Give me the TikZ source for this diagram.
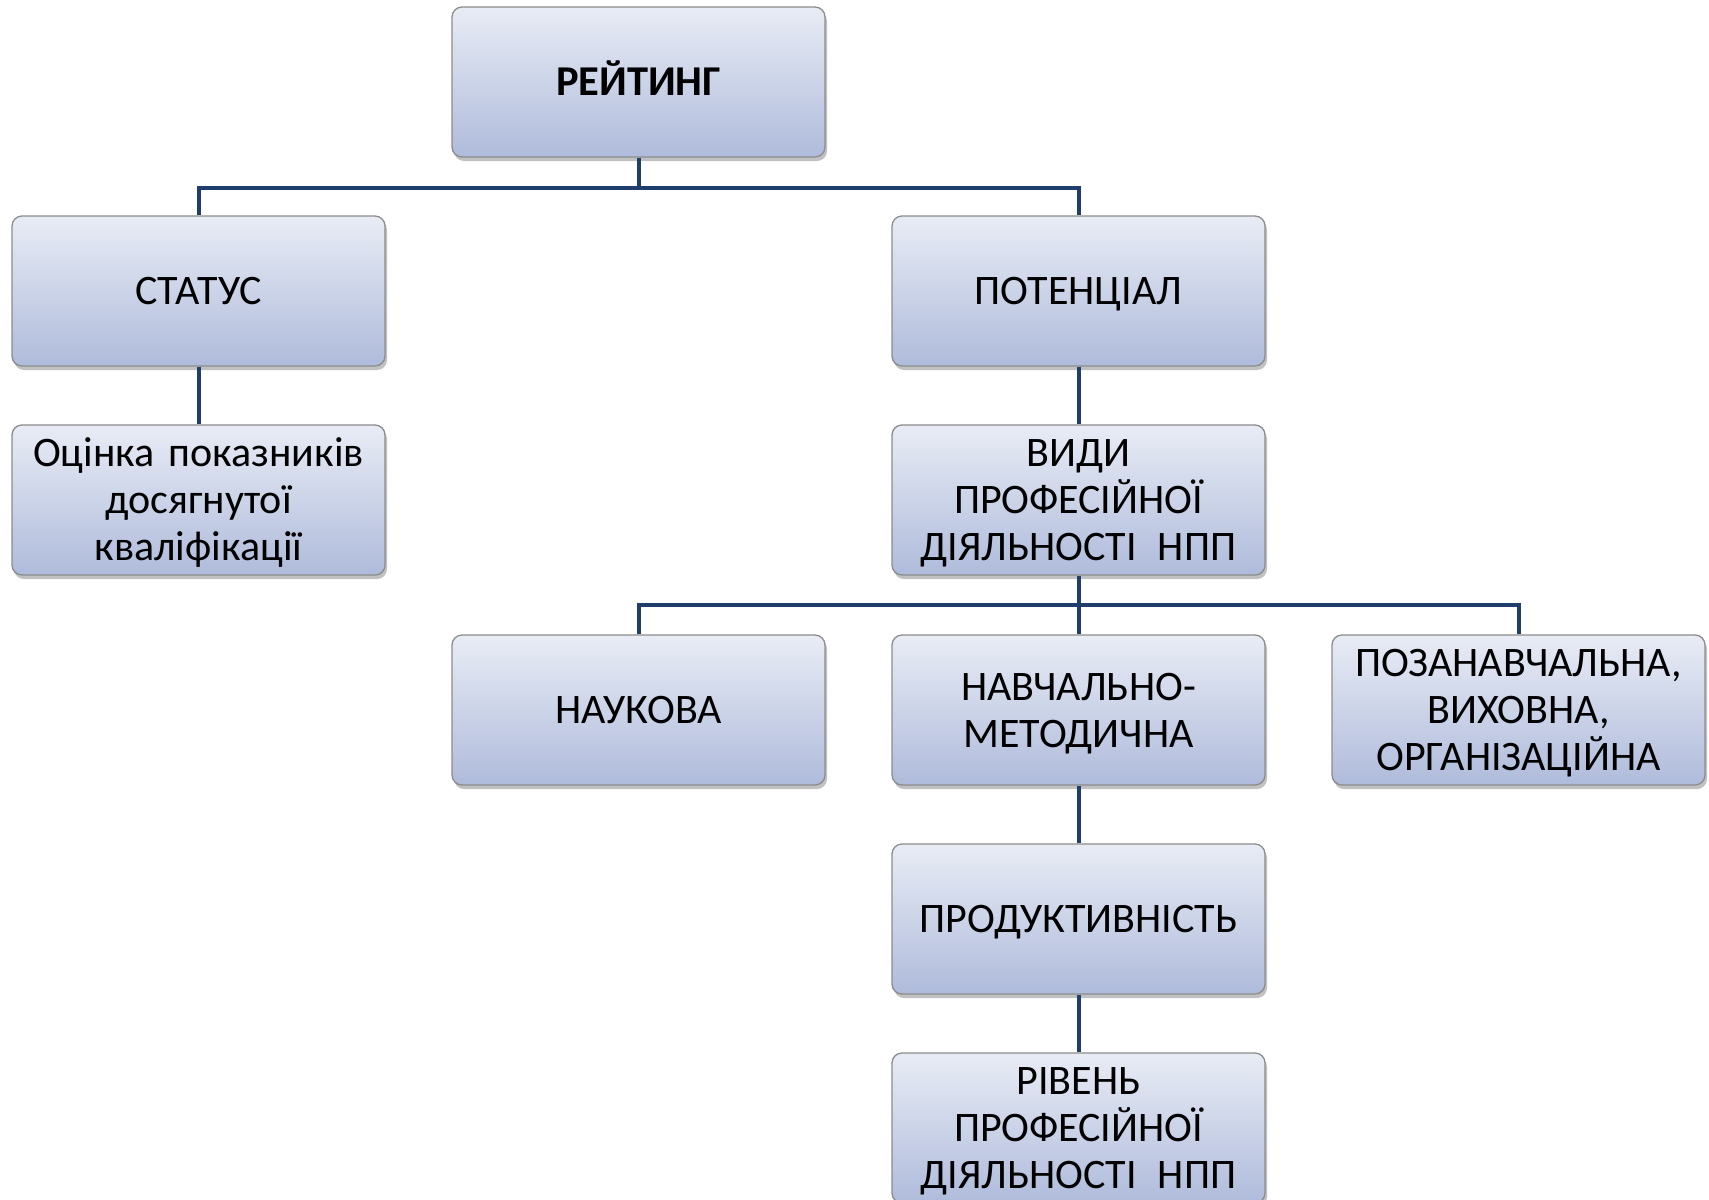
\documentclass[tikz,border=0pt]{standalone}
\usepackage{fontspec}
\setmainfont{Carlito}
\usetikzlibrary{shadows}
\definecolor{boxtop}{HTML}{E8ECF5}
\definecolor{boxbot}{HTML}{AFBBDB}
\definecolor{boxline}{HTML}{8C8C8C}
\definecolor{conncol}{HTML}{1F3E6C}
\tikzset{
  box/.style={draw=boxline, line width=1.3pt, rounded corners=10pt,
    top color=boxtop, bottom color=boxbot,
    minimum width=373pt, minimum height=150pt, inner sep=0pt,
    align=center, text width=365pt,
    font=\fontsize{42}{47}\selectfont,
    execute at begin node={\rule{0pt}{42pt}}, execute at end node=\strut,
    drop shadow={shadow xshift=2pt, shadow yshift=-4pt, opacity=0.35, fill=black!70}},
  conn/.style={draw=conncol, line width=4pt}
}
\newcommand{\gapnpp}{\hspace{0.5em}}
\begin{document}
\begin{tikzpicture}[x=1pt,y=-1pt]
\useasboundingbox (0,0) rectangle (1709,1200);
\node[box, font=\fontsize{42.5}{47}\selectfont\bfseries] (r) at (638.5,82) {РЕЙТИНГ};
\node[box] (s) at (198.5,291) {СТАТУС};
\node[box] (p) at (1078.5,291) {ПОТЕНЦІАЛ};
\node[box] (o) at (198.5,500) {Оцінка показників\\досягнутої\\кваліфікації};
\node[box] (v) at (1078.5,500) {ВИДИ\\ПРОФЕСІЙНОЇ\\ДІЯЛЬНОСТІ\gapnpp НПП};
\node[box] (n) at (638.5,710) {НАУКОВА};
\node[box] (m) at (1078.5,710) {НАВЧАЛЬНО-\\МЕТОДИЧНА};
\node[box] (z) at (1518.5,710) {ПОЗАНАВЧАЛЬНА,\\ВИХОВНА,\\ОРГАНІЗАЦІЙНА};
\node[box] (d) at (1078.5,919) {ПРОДУКТИВНІСТЬ};
\node[box] (e) at (1078.5,1128) {РІВЕНЬ\\ПРОФЕСІЙНОЇ\\ДІЯЛЬНОСТІ\gapnpp НПП};
\coordinate (b1) at (638.5,188);
\coordinate (b2) at (1078.5,605);
\draw[conn] (r.south) -- (b1);
\draw[conn] (s.north) -- (s.north |- b1) -- (p.north |- b1) -- (p.north);
\draw[conn] (s.south) -- (o.north);
\draw[conn] (p.south) -- (v.north);
\draw[conn] (v.south) -- (b2);
\draw[conn] (n.north) -- (n.north |- b2) -- (z.north |- b2) -- (z.north);
\draw[conn] (b2) -- (m.north);
\draw[conn] (m.south) -- (d.north);
\draw[conn] (d.south) -- (e.north);
\end{tikzpicture}
\end{document}
